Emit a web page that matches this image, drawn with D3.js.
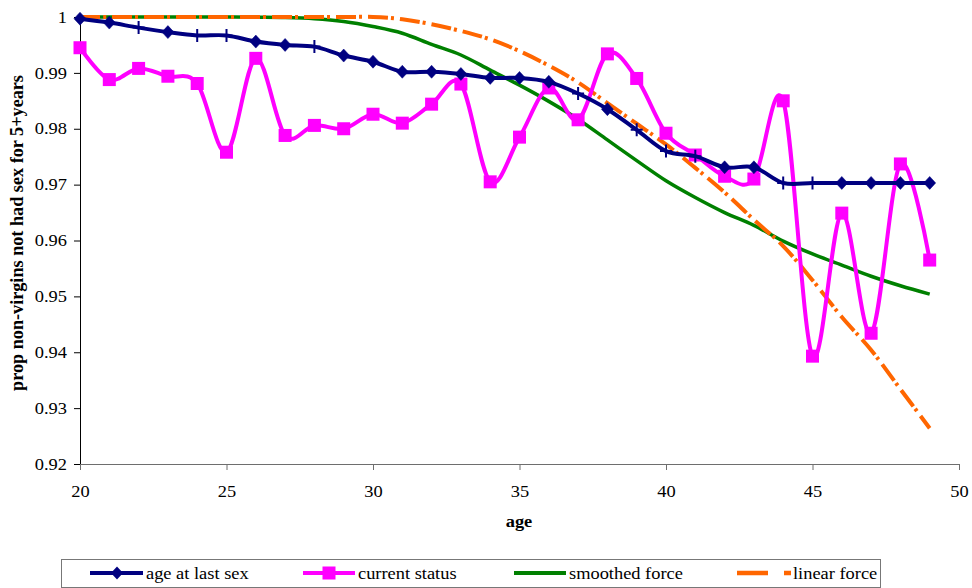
<!DOCTYPE html>
<html>
<head>
<meta charset="utf-8">
<script src="https://cdn.jsdelivr.net/npm/d3@7"></script>
<style>
  body { margin: 0; background: #fff; }
  svg { display: block; }
  text { font-family: "Liberation Serif", "Times New Roman", serif; fill: #000; }
</style>
</head>
<body>
<div id="chart"></div>
<script>
// data
const ages = [20, 21, 22, 23, 24, 25, 26, 27, 28, 29, 30, 31, 32, 33, 34,
              35, 36, 37, 38, 39, 40, 41, 42, 43, 44, 45, 46, 47, 48, 49];
const ageLastSex = [0.9997, 0.9990, 0.9981, 0.9973, 0.9967, 0.9967, 0.9956, 0.9950, 0.9947, 0.9931,
                    0.9920, 0.9902, 0.9902, 0.9898, 0.9891, 0.9891, 0.9884, 0.9863, 0.9835, 0.9798,
                    0.9760, 0.9751, 0.9731, 0.9731, 0.9703, 0.9703, 0.9703, 0.9703, 0.9703, 0.9703];
const currentStatus = [0.9945, 0.9888, 0.9908, 0.9894, 0.9881, 0.9758, 0.9926, 0.9788, 0.9806, 0.9800,
                       0.9826, 0.9810, 0.9844, 0.9880, 0.9705, 0.9785, 0.9873, 0.9816, 0.9934, 0.9890,
                       0.9792, 0.9753, 0.9715, 0.9710, 0.9850, 0.9393, 0.9649, 0.9434, 0.9737, 0.9565];
const smoothedForce = [1, 1, 1, 1, 1, 1, 0.99995, 0.9999, 0.9997, 0.9992,
                       0.9983, 0.9971, 0.9951, 0.9932, 0.9905, 0.9878, 0.9849, 0.9817, 0.9780, 0.9743,
                       0.9707, 0.9677, 0.9650, 0.9627, 0.9599, 0.9576, 0.9556, 0.9536, 0.9519, 0.9504];
const linearForce = [1, 1, 1, 1, 1, 1, 1, 1, 1, 1,
                     1, 0.9996, 0.9987, 0.9975, 0.9960, 0.9939, 0.9913, 0.9883, 0.9846, 0.9809,
                     0.9772, 0.9730, 0.9686, 0.9637, 0.9590, 0.9529, 0.9463, 0.9404, 0.9334, 0.9264];
// ages where the "age at last sex" marker shows as a cross instead of a diamond
const crossAges = [22, 24, 25, 28, 37, 39, 40, 41, 44, 45];

const xTickValues = [20, 25, 30, 35, 40, 45, 50];
const yTickValues = [0.92, 0.93, 0.94, 0.95, 0.96, 0.97, 0.98, 0.99, 1];
const yTickLabels = ["0.92", "0.93", "0.94", "0.95", "0.96", "0.97", "0.98", "0.99", "1"];
const seriesNames = ["age at last sex", "current status", "smoothed force", "linear force"];

// dimensions and margins
const margin = {top: 17, right: 13, bottom: 124, left: 80},
    width = 972 - margin.left - margin.right,
    height = 588 - margin.top - margin.bottom;
const sx = 1.15; // text in the picture is stretched sideways

const svg = d3.select("#chart")
  .append("svg")
    .attr("width", 972)
    .attr("height", 588);

const g = svg.append("g")
    .attr("transform", "translate(" + margin.left + "," + margin.top + ")");

const x = d3.scaleLinear().domain([20, 50]).range([0, width]);
const y = d3.scaleLinear().domain([0.92, 1]).range([height, 0]);

// Y axis
const yAxis = d3.axisLeft(y)
  .tickValues(yTickValues)
  .tickSize(6)
  .tickSizeOuter(0)
  .tickPadding(5.3)
  .tickFormat((d, i) => yTickLabels[i]);
const gy = g.append("g")
    .attr("class", "y-axis")
    .call(yAxis)
    .attr("font-family", null)
    .attr("font-size", 16);
gy.select(".domain").attr("stroke", "#000");
gy.selectAll(".tick line").attr("stroke", "#000");
gy.selectAll(".tick text").attr("transform", "scale(" + sx + ",1)");

// X axis
const xAxis = d3.axisBottom(x)
  .tickValues(xTickValues)
  .tickSize(6)
  .tickSizeOuter(0)
  .tickPadding(15.5);
const gx = g.append("g")
    .attr("class", "x-axis")
    .attr("transform", "translate(0," + height + ")")
    .call(xAxis)
    .attr("font-family", null)
    .attr("font-size", 16);
gx.select(".domain").attr("stroke", "#6e6e6e");
gx.selectAll(".tick line").attr("stroke", "#6e6e6e");
gx.selectAll(".tick text").attr("transform", "scale(" + sx + ",1)");

// lines
const line = d3.line()
  .x((d, i) => x(ages[i]))
  .y(d => y(d))
  .curve(d3.curveCardinal.tension(0));

g.append("path")
  .datum(smoothedForce)
  .attr("fill", "none")
  .attr("stroke", "#008000")
  .attr("stroke-width", 3.5)
  .attr("d", line);

g.append("path")
  .datum(linearForce)
  .attr("fill", "none")
  .attr("stroke", "#ff6600")
  .attr("stroke-width", 4)
  .attr("stroke-dasharray", "20,3,3,6")
  .attr("d", line);

g.append("path")
  .datum(currentStatus)
  .attr("fill", "none")
  .attr("stroke", "#ff00ff")
  .attr("stroke-width", 4)
  .attr("d", line);

g.selectAll(".sq")
  .data(currentStatus)
  .enter()
  .append("rect")
    .attr("class", "sq")
    .attr("x", (d, i) => x(ages[i]) - 6.5)
    .attr("y", d => y(d) - 6.5)
    .attr("width", 13)
    .attr("height", 13)
    .attr("fill", "#ff00ff");

g.append("path")
  .datum(ageLastSex)
  .attr("fill", "none")
  .attr("stroke", "#000080")
  .attr("stroke-width", 4)
  .attr("d", line);

g.selectAll(".mk")
  .data(ageLastSex)
  .enter()
  .append("path")
    .attr("class", "mk")
    .attr("transform", (d, i) => "translate(" + x(ages[i]) + "," + y(d) + ")")
    .attr("d", (d, i) => crossAges.includes(ages[i]) ? "M0,-6.5V6.5M-6,0H6" : "M0,-6.5L6,0L0,6.5L-6,0Z")
    .attr("fill", (d, i) => crossAges.includes(ages[i]) ? "none" : "#000080")
    .attr("stroke", "#000080")
    .attr("stroke-width", (d, i) => crossAges.includes(ages[i]) ? 2 : 0.5);

// axis titles
svg.append("text")
  .attr("transform", "translate(519,527) scale(" + sx + ",1)")
  .attr("text-anchor", "middle")
  .style("font-weight", "bold")
  .style("font-size", "16px")
  .text("age");

svg.append("text")
  .attr("transform", "translate(23,233) rotate(-90)")
  .attr("text-anchor", "middle")
  .style("font-weight", "bold")
  .style("font-size", "18.2px")
  .text("prop non-virgins not had sex for 5+years");

// legend
const legend = svg.append("g");
legend.append("rect")
  .attr("x", 61.5).attr("y", 559.5)
  .attr("width", 819).attr("height", 28)
  .attr("fill", "none")
  .attr("stroke", "#777");

const ly = 573;
// age at last sex
legend.append("line").attr("x1", 90).attr("x2", 143).attr("y1", ly).attr("y2", ly)
  .attr("stroke", "#000080").attr("stroke-width", 4);
legend.append("path").attr("transform", "translate(117," + ly + ")")
  .attr("d", "M0,-6.5L6,0L0,6.5L-6,0Z").attr("fill", "#000080");
// current status
legend.append("line").attr("x1", 303).attr("x2", 355).attr("y1", ly).attr("y2", ly)
  .attr("stroke", "#ff00ff").attr("stroke-width", 4);
legend.append("rect").attr("x", 329 - 6.5).attr("y", ly - 6.5).attr("width", 13).attr("height", 13)
  .attr("fill", "#ff00ff");
// smoothed force
legend.append("line").attr("x1", 514).attr("x2", 566).attr("y1", ly).attr("y2", ly)
  .attr("stroke", "#008000").attr("stroke-width", 4);
// linear force
legend.append("line").attr("x1", 737).attr("x2", 791).attr("y1", ly).attr("y2", ly)
  .attr("stroke", "#ff6600").attr("stroke-width", 4.5)
  .attr("stroke-dasharray", "31,16,7");

const textX = [146, 358, 569, 793];
legend.selectAll(".lt")
  .data(seriesNames)
  .enter()
  .append("text")
    .attr("class", "lt")
    .attr("transform", (d, i) => "translate(" + textX[i] + ",579) scale(" + sx + ",1)")
    .style("font-size", "16px")
    .text(d => d);
</script>
</body>
</html>
